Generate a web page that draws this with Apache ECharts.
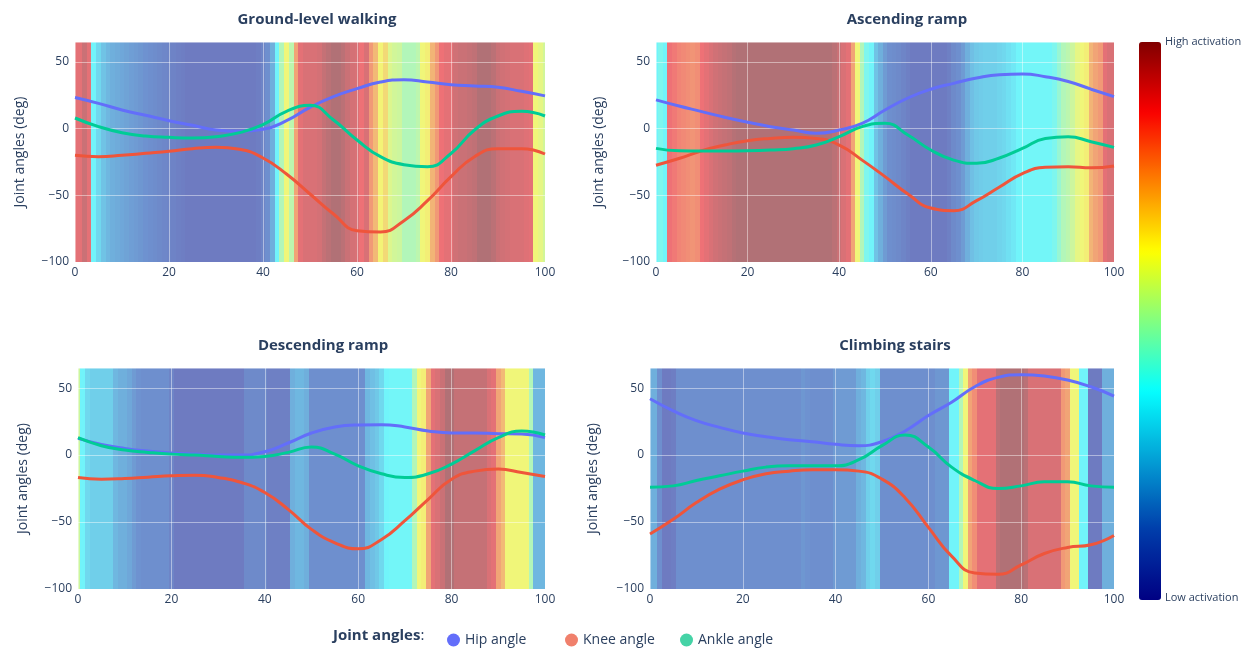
<!DOCTYPE html>
<html>
<head>
  <meta charset="utf-8">
  <title>Joint angles and activation</title>
  <script src="https://cdn.jsdelivr.net/npm/echarts@6.0.0/dist/echarts.min.js"></script>
</head>
<body style="margin:0; background:#fff;">
  <div id="main" style="width:1255px; height:652px;"></div>
  <script type="text/javascript">
    // gait cycle (%) sample points for the angle curves
    const cyclePts = [0, 5, 10, 15, 20, 25, 30, 35, 40, 45, 50, 55, 60, 65, 70, 75, 80, 85, 90, 95, 100];

    const walkHip   = [23.4, 19, 14, 10, 6, 2.5, -1, -2, -0.5, 6, 16, 24, 30, 35, 36.7, 35, 33, 32, 31, 28, 24.6];
    const walkKnee  = [-20, -21, -20, -18.5, -17, -15, -14, -15.5, -22, -34, -49, -64, -76.5, -77.5, -69, -54, -36, -21, -15, -15, -19];
    const walkAnkle = [8, 1.5, -3, -5.5, -6.5, -7, -6, -3, 3, 13, 17.5, 6.5, -8.5, -21, -27, -28.5, -18.6, -1, 9.5, 13, 9.5];

    const upHip   = [21.6, 17, 12.8, 8.5, 4.8, 1.5, -1, -3.5, -1, 4, 14, 23, 29.6, 34, 38, 40.5, 41, 39, 35.4, 29.6, 24];
    const upKnee  = [-27.4, -22.4, -16.6, -12.3, -9, -7.3, -6.5, -7.3, -12.3, -23.6, -36, -49, -59.5, -61.5, -54, -43.7, -33.7, -29, -28.6, -29.4, -28];
    const upAnkle = [-14.8, -16.6, -16.8, -16.8, -16.6, -16, -15, -12.3, -6, 1.5, 4, -4.8, -16, -23.6, -26, -22, -14.8, -7.3, -6, -9.8, -14];

    const downHip   = [12.5, 8, 5, 3, 1.5, 0.7, 0, 0, 2.5, 9, 16.5, 21, 22.5, 22.7, 21, 18, 16.5, 16.5, 16, 15.7, 13];
    const downKnee  = [-16.7, -18, -17.5, -16.5, -15.5, -15, -16.7, -20.5, -28, -40.5, -55.5, -65.5, -70, -63, -49, -33, -18, -12, -10.5, -13, -16];
    const downAnkle = [13, 7, 3.7, 2, 0.7, 0, -1, -1.7, -1, 2, 6, 0.7, -8, -14, -16.7, -14, -6.7, 3.3, 13, 18, 15];

    const stairHip   = [42, 33, 25.7, 20.7, 16.5, 13.7, 11.5, 10, 8, 7, 10, 18, 29.5, 39.5, 51, 58, 60, 59, 56, 51, 44];
    const stairKnee  = [-59, -48, -35.5, -25.5, -18.5, -14, -12, -11, -11, -12, -18, -32, -54, -75.5, -88, -89, -82, -73.5, -69, -67, -60];
    const stairAnkle = [-24, -23, -19, -15.5, -12, -9, -8, -8, -8, -3.5, 7, 15, 6, -9, -19, -25, -23, -20, -20, -23, -24];

    // muscle activation per 1% of the cycle (0 = low, 1 = high), x = 0..100
    const walkAct = [
      0.9, 0.9, 0.95, 0.9, 0.37, 0.3, 0.25, 0.22, 0.2, 0.19,
      0.18, 0.17, 0.16, 0.15, 0.14, 0.13, 0.12, 0.11, 0.1, 0.09,
      0.08, 0.07, 0.06, 0.05, 0.04, 0.04, 0.04, 0.04, 0.04, 0.04,
      0.04, 0.04, 0.04, 0.04, 0.04, 0.04, 0.04, 0.04, 0.04, 0.05,
      0.08, 0.12, 0.2, 0.37, 0.5, 0.62, 0.52, 0.78, 0.9, 0.92,
      0.92, 0.92, 0.93, 0.96, 0.98, 1.0, 1.0, 0.98, 0.95, 0.93,
      0.92, 0.88, 0.92, 0.8, 0.74, 0.63, 0.68, 0.58, 0.56, 0.55,
      0.5, 0.5, 0.5, 0.52, 0.62, 0.64, 0.75, 0.8, 0.88, 0.9,
      0.9, 0.94, 0.95, 0.95, 0.96, 0.97, 1.0, 1.0, 1.0, 0.98,
      0.95, 0.94, 0.93, 0.92, 0.92, 0.92, 0.91, 0.9, 0.62, 0.6,
      0.56
    ];
    const upAct = [
      0.37, 0.4, 0.37, 0.88, 0.86, 0.84, 0.83, 0.82, 0.81, 0.82,
      0.88, 0.9, 0.92, 0.94, 0.95, 0.96, 0.97, 0.99, 1.0, 1.0,
      1.0, 1.0, 1.0, 1.0, 1.0, 1.0, 1.0, 1.0, 1.0, 1.0,
      1.0, 1.0, 1.0, 1.0, 1.0, 1.0, 1.0, 1.0, 1.0, 0.98,
      0.95, 0.92, 0.9, 0.78, 0.62, 0.5, 0.4, 0.37, 0.25, 0.2,
      0.15, 0.12, 0.11, 0.1, 0.08, 0.06, 0.04, 0.04, 0.04, 0.04,
      0.04, 0.04, 0.04, 0.04, 0.06, 0.1, 0.12, 0.15, 0.2, 0.24,
      0.26, 0.27, 0.28, 0.28, 0.28, 0.29, 0.3, 0.32, 0.34, 0.37,
      0.38, 0.38, 0.38, 0.38, 0.38, 0.38, 0.38, 0.4, 0.45, 0.5,
      0.52, 0.55, 0.6, 0.62, 0.64, 0.75, 0.78, 0.8, 0.9, 0.92,
      0.92
    ];
    const downAct = [
      0.55, 0.37, 0.3, 0.28, 0.28, 0.28, 0.28, 0.28, 0.22, 0.2,
      0.2, 0.18, 0.15, 0.13, 0.12, 0.12, 0.12, 0.12, 0.12, 0.12,
      0.08, 0.04, 0.04, 0.04, 0.04, 0.04, 0.04, 0.04, 0.04, 0.04,
      0.04, 0.04, 0.04, 0.04, 0.04, 0.04, 0.1, 0.1, 0.1, 0.1,
      0.1, 0.06, 0.06, 0.06, 0.06, 0.06, 0.2, 0.22, 0.22, 0.2,
      0.12, 0.12, 0.12, 0.12, 0.12, 0.12, 0.12, 0.12, 0.12, 0.12,
      0.12, 0.12, 0.22, 0.24, 0.26, 0.3, 0.37, 0.38, 0.38, 0.38,
      0.38, 0.38, 0.5, 0.62, 0.64, 0.78, 0.9, 0.92, 0.95, 1.0,
      1.0, 0.96, 0.96, 0.96, 0.96, 0.96, 0.96, 0.96, 0.92, 0.9,
      0.78, 0.74, 0.62, 0.62, 0.62, 0.62, 0.62, 0.5, 0.22, 0.22,
      0.22
    ];
    const stairAct = [
      0.2, 0.2, 0.12, 0.04, 0.04, 0.05, 0.12, 0.12, 0.12, 0.12,
      0.12, 0.12, 0.12, 0.12, 0.12, 0.12, 0.12, 0.12, 0.12, 0.12,
      0.12, 0.12, 0.12, 0.12, 0.12, 0.12, 0.12, 0.12, 0.12, 0.12,
      0.12, 0.12, 0.12, 0.14, 0.13, 0.12, 0.12, 0.12, 0.12, 0.12,
      0.15, 0.15, 0.15, 0.15, 0.15, 0.2, 0.22, 0.28, 0.3, 0.28,
      0.12, 0.12, 0.12, 0.12, 0.12, 0.12, 0.12, 0.12, 0.12, 0.12,
      0.12, 0.12, 0.14, 0.14, 0.14, 0.37, 0.37, 0.5, 0.62, 0.78,
      0.82, 0.9, 0.9, 0.9, 0.9, 0.98, 1.0, 1.0, 1.0, 1.0,
      1.0, 0.98, 0.92, 0.92, 0.92, 0.92, 0.92, 0.92, 0.92, 0.8,
      0.78, 0.62, 0.62, 0.37, 0.37, 0.04, 0.04, 0.04, 0.2, 0.2,
      0.2
    ];

    const panelTitles = ['Ground-level walking', 'Ascending ramp', 'Descending ramp', 'Climbing stairs'];
    const angleNames = ['Hip angle', 'Knee angle', 'Ankle angle'];
    const yTicks = [-100, -50, 0, 50];

    const panels = [
      { act: walkAct, lines: [walkHip, walkKnee, walkAnkle] },
      { act: upAct, lines: [upHip, upKnee, upAnkle] },
      { act: downAct, lines: [downHip, downKnee, downAnkle] },
      { act: stairAct, lines: [stairHip, stairKnee, stairAnkle] }
    ];

    const FONT = '"Open Sans", verdana, arial, sans-serif';
    const TXT = '#2a3f5f';
    const GRIDLINE = 'rgba(255,255,255,0.45)';
    const lineColors = ['#636efa', '#ef553b', '#00cc96'];
    const legendColors = ['#636efa', '#f0806c', '#45d3a6'];
    const Y_MIN = -100, Y_MAX = 65;

    // plot areas
    const boxes = [
      { left: 75, top: 42, width: 470, height: 220, nameGap: 48, titleX: 312 },
      { left: 656, top: 42, width: 458, height: 220, nameGap: 50, titleX: 902 },
      { left: 78, top: 368, width: 467, height: 221, nameGap: 48, titleX: 318 },
      { left: 650, top: 368, width: 464, height: 221, nameGap: 50, titleX: 890 }
    ];

    const myChart = echarts.init(document.getElementById('main'), null, { renderer: 'canvas' });

    // one column of the activation strip, snapped to whole pixels so cells neither overlap nor leave gaps
    function heatItem(params, api) {
      const x = api.value(0);
      const a = api.coord([x - 0.5, Y_MAX]);
      const b = api.coord([x + 0.5, Y_MIN]);
      const cs = params.coordSys;
      const x0 = Math.max(Math.round(a[0]), Math.round(cs.x));
      const x1 = Math.min(Math.round(b[0]), Math.round(cs.x + cs.width));
      if (x1 <= x0) return null;
      const y0 = Math.round(cs.y), y1 = Math.round(cs.y + cs.height);
      return {
        type: 'rect',
        shape: { x: x0, y: y0, width: x1 - x0, height: y1 - y0 },
        style: { fill: api.visual('color'), opacity: 0.52 }
      };
    }

    const grids = [], xAxes = [], yAxes = [], series = [], titles = [], heatIdx = [];

    panels.forEach((p, i) => {
      const b = boxes[i];
      grids.push({ left: b.left, top: b.top, width: b.width, height: b.height,
        show: true, backgroundColor: '#E5ECF6', borderWidth: 0 });
      // axes sit above the activation strip so the grid shows through it
      xAxes.push({
        gridIndex: i, type: 'value', min: 0, max: 100, interval: 20, z: 2,
        axisLine: { show: false }, axisTick: { show: false },
        axisLabel: { color: TXT, fontSize: 12, fontFamily: FONT, margin: 5 },
        splitLine: { lineStyle: { color: GRIDLINE, width: 1 } }
      });
      yAxes.push({
        gridIndex: i, type: 'value', min: Y_MIN, max: Y_MAX, interval: 50, z: 2,
        name: 'Joint angles (deg)', nameLocation: 'middle', nameGap: b.nameGap,
        nameTextStyle: { color: TXT, fontSize: 14, fontFamily: FONT },
        axisLine: { show: false }, axisTick: { show: false },
        axisLabel: {
          color: TXT, fontSize: 12, fontFamily: FONT, margin: 6, showMaxLabel: false,
          formatter: v => (yTicks.indexOf(v) < 0 ? '' : String(v).replace('-', '\u2212'))
        },
        splitLine: { lineStyle: { color: GRIDLINE, width: 1 } }
      });
      titles.push({
        text: panelTitles[i], left: b.titleX, top: b.top - 35, textAlign: 'center',
        textStyle: { color: TXT, fontSize: 15, fontWeight: 'bold', fontFamily: FONT }
      });

      heatIdx.push(series.length);
      series.push({
        type: 'custom', name: 'activation', xAxisIndex: i, yAxisIndex: i, z: 1,
        renderItem: heatItem, silent: true,
        encode: { x: 0, y: 1 },
        data: p.act.map((v, k) => [k, v])
      });
      p.lines.forEach((vals, j) => {
        series.push({
          type: 'line', name: angleNames[j], xAxisIndex: i, yAxisIndex: i, z: 3,
          smooth: 0.5, showSymbol: false,
          lineStyle: { color: lineColors[j], width: 3 },
          itemStyle: { color: lineColors[j] },
          data: vals.map((v, k) => [cyclePts[k], v])
        });
      });
    });

    const legendLefts = [442, 560, 675];
    const legends = angleNames.map((n, j) => ({
      left: legendLefts[j], top: 628, icon: 'circle', itemWidth: 13, itemHeight: 13, itemGap: 6,
      textStyle: { color: TXT, fontSize: 14, fontFamily: FONT },
      data: [{ name: n, itemStyle: { color: legendColors[j] } }]
    }));

    const option = {
      animation: false,
      backgroundColor: '#ffffff',
      title: titles,
      grid: grids,
      xAxis: xAxes,
      yAxis: yAxes,
      legend: legends,
      visualMap: {
        type: 'continuous', min: 0, max: 1, dimension: 1, seriesIndex: heatIdx,
        calculable: false, orient: 'vertical', left: 1139, top: 42,
        itemWidth: 22, itemHeight: 558, padding: 0, text: null, showLabel: false,
        inRange: { color: ['#000083', '#003caa', '#039ed5', '#05ffff', '#82ff80', '#ffff00', '#fd8000', '#fa0000', '#800000'] }
      },
      graphic: [
        { type: 'text', left: 1165, top: 36, style: { text: 'High activation', fill: TXT, fontSize: 11, fontFamily: FONT } },
        { type: 'text', left: 1165, top: 592, style: { text: 'Low activation', fill: TXT, fontSize: 11, fontFamily: FONT } },
        { type: 'text', left: 333, top: 628, style: {
          text: '{b|Joint angles}:', fill: TXT, fontSize: 15, fontFamily: FONT,
          rich: { b: { fontWeight: 'bold', fontSize: 15, fontFamily: FONT, fill: TXT } }
        } }
      ],
      series: series
    };

    myChart.setOption(option);
  </script>
</body>
</html>
